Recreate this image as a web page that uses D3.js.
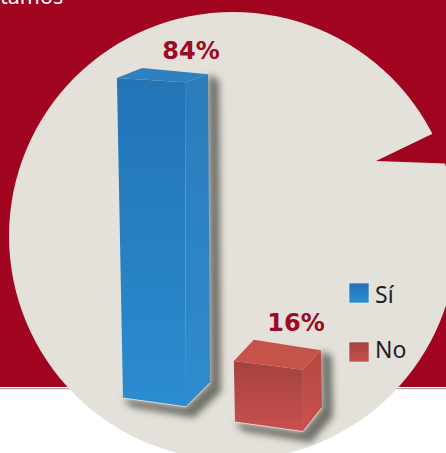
<!doctype html>
<html lang="es">
<head>
<meta charset="UTF-8">
<title>Encuesta</title>
<script src="https://cdn.jsdelivr.net/npm/d3@7"></script>
<style>
    html, body { margin: 0; padding: 0; background: #fff; }
    svg { display: block; font-family: "Noto Sans", sans-serif; }
</style>
</head>
<body>
<svg width="446" height="453"></svg>
<script>
    // data
    const categories = ["Sí", "No"];
    const values = [84, 16];
    const labels = ["84%", "16%"];

    const width = 446, height = 453;
    const svg = d3.select("svg");
    const defs = svg.append("defs");

    // colours per category
    const palette = d3.scaleOrdinal().domain(categories).range([
        { frontTop: "#2274b5", frontBottom: "#2b8ccf", top: "#2f80be", sideTop: "#2a7cbc", sideBottom: "#2f8ccb" },
        { frontTop: "#a3423f", frontBottom: "#c8504e", top: "#c5534a", sideTop: "#b3463f", sideBottom: "#cb5150" }
    ]);

    // background
    svg.append("rect").attr("width", width).attr("height", 387).attr("fill", "#a0041e");
    svg.append("rect").attr("y", 388).attr("width", width).attr("height", 1.2).attr("fill", "#a8a4a4");
    svg.append("circle").attr("cx", 233).attr("cy", 236).attr("r", 224).attr("fill", "#e3e1da");
    svg.append("path").attr("d", "M432,134L376,161L446,163.5L446,134Z").attr("fill", "#a0041e");
    svg.append("text").attr("x", 0).attr("y", 4).attr("fill", "#fff")
        .style("font-size", "21.5px").text("tamos");

    // scales, the picture is drawn in an oblique view so base and width drift with x
    const x = d3.scalePoint().domain(categories).range([123, 235]);
    const h = d3.scaleLinear().domain([0, 84]).range([0, 320]);
    const baseY = d3.scaleLinear().domain([123, 235]).range([398, 422]);
    const frontW = d3.scaleLinear().domain([123, 235]).range([63, 68]);
    const depthX = d3.scaleLinear().domain([123, 235]).range([24, 19]);
    const depthY = d3.scaleLinear().domain([0, 320]).range([-24, -10]);
    const slope = d3.scaleLinear().domain([0, 320]).range([0.14, 0.06]);

    function corners(cat, val) {
        const x0 = x(cat), y0 = baseY(x0), w = frontW(x0), dx = depthX(x0), hh = h(val);
        const bl = [x0, y0];
        const br = [x0 + w, y0 + w * slope(0)];
        const tl = [x0 - 0.019 * hh, y0 - hh];
        const tr = [br[0] - 0.003 * hh, tl[1] + (br[0] - tl[0]) * slope(hh)];
        const bbr = [br[0] + dx, br[1] + depthY(0)];
        const tbr = [tr[0] + dx - 1, tr[1] + depthY(hh) + 2];
        const tbl = [tl[0] + dx + 1, tl[1] + depthY(hh)];
        return { bl, br, tl, tr, bbr, tbr, tbl };
    }

    const line = d3.line().curve(d3.curveLinearClosed);

    const blur = defs.append("filter").attr("id", "soft")
        .attr("x", "-40%").attr("y", "-40%").attr("width", "180%").attr("height", "180%");
    blur.append("feGaussianBlur").attr("stdDeviation", 3.5);

    categories.forEach(function (cat, i) {
        const c = palette(cat);
        const g = defs.append("linearGradient").attr("id", "front" + i)
            .attr("x1", 0).attr("y1", 0).attr("x2", 0).attr("y2", 1);
        g.append("stop").attr("offset", "0%").attr("stop-color", c.frontTop);
        g.append("stop").attr("offset", "100%").attr("stop-color", c.frontBottom);
        const s = defs.append("linearGradient").attr("id", "side" + i)
            .attr("x1", 0).attr("y1", 0).attr("x2", 0).attr("y2", 1);
        s.append("stop").attr("offset", "0%").attr("stop-color", c.sideTop);
        s.append("stop").attr("offset", "100%").attr("stop-color", c.sideBottom);
    });

    const bars = svg.selectAll("g.bar")
        .data(categories.map(function (cat, i) { return { cat: cat, val: values[i], label: labels[i], i: i, p: corners(cat, values[i]) }; }))
        .enter().append("g").attr("class", "bar");

    // shadow
    bars.append("path")
        .attr("d", function (d) {
            const p = d.p;
            return line([p.tbr, p.bbr, p.br, p.bl, [p.bl[0] + 8, p.bl[1] + 9], [p.br[0] + 8, p.br[1] + 11], [p.bbr[0] + 11, p.bbr[1] + 9], [p.tbr[0] + 11, p.tbr[1] + 6]]);
        })
        .attr("fill", "#4a4842").attr("opacity", 0.75).attr("filter", "url(#soft)");

    bars.append("path").attr("class", "side")
        .attr("d", function (d) { const p = d.p; return line([p.tr, p.tbr, p.bbr, p.br]); })
        .attr("fill", function (d) { return "url(#side" + d.i + ")"; });

    bars.append("path").attr("class", "front")
        .attr("d", function (d) { const p = d.p; return line([p.tl, p.tr, p.br, p.bl]); })
        .attr("fill", function (d) { return "url(#front" + d.i + ")"; });

    bars.append("path").attr("class", "top")
        .attr("d", function (d) { const p = d.p; return line([p.tl, p.tbl, p.tbr, p.tr]); })
        .attr("fill", function (d) { return palette(d.cat).top; });

    // light bottom edge
    bars.append("path")
        .attr("d", function (d) { const p = d.p; return d3.line()([p.bl, p.br, p.bbr]); })
        .attr("fill", "none").attr("stroke", "#efe9df").attr("stroke-width", 0.8);

    const labelX = d3.scalePoint().domain(categories).range([191, 296]);
    const labelY = d3.scaleOrdinal().domain(categories).range([59, 331]);
    bars.append("text")
        .attr("x", function (d) { return labelX(d.cat); })
        .attr("y", function (d) { return labelY(d.cat); })
        .attr("text-anchor", "middle")
        .attr("fill", "#9e0a24")
        .style("font-family", "'DejaVu Sans'")
        .style("font-size", "24px").style("font-weight", 700)
        .text(function (d) { return d.label; });

    // legend
    const legendY = d3.scalePoint().domain(categories).range([283, 342]);
    const legend = svg.selectAll("g.legend").data(categories).enter().append("g")
        .attr("class", "legend")
        .attr("transform", function (d) { return "translate(349," + legendY(d) + ")"; });
    legend.append("rect").attr("width", 20).attr("height", 20)
        .attr("fill", function (d, i) { return "url(#front" + i + ")"; })
        .attr("stroke", "#f0eeea").attr("stroke-width", 0.6);
    legend.append("text").attr("x", 26).attr("y", function (d, i) { return i ? 16 : 20; })
        .attr("fill", "#231f20").style("font-size", "23px").text(function (d) { return d; });
</script>
</body>
</html>
